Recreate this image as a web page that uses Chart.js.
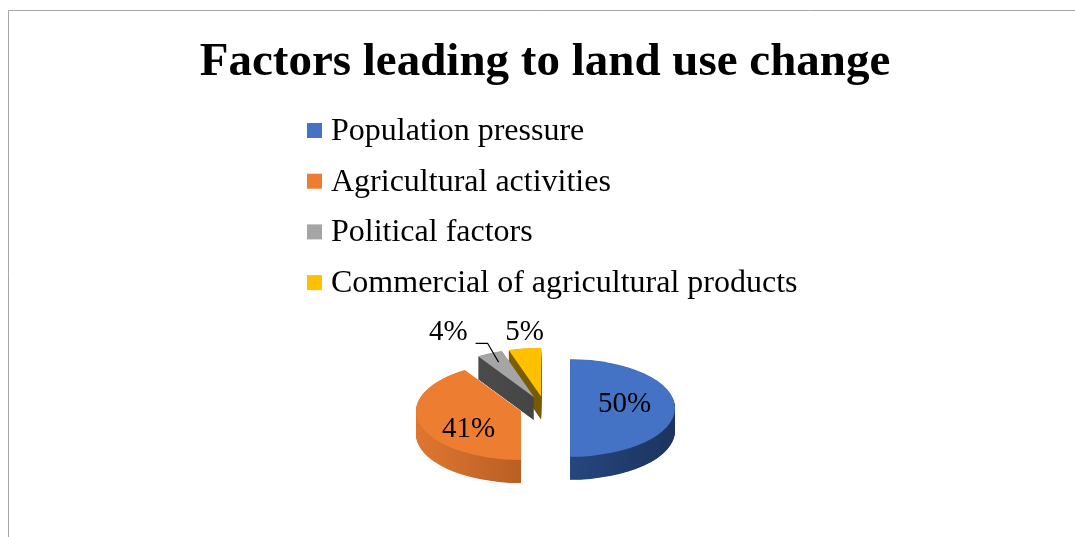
<!DOCTYPE html>
<html>
<head>
<meta charset="utf-8">
<script src="https://cdn.jsdelivr.net/npm/chart.js@4.4.1/dist/chart.umd.min.js"></script>
<style>
  html, body { margin: 0; padding: 0; background: #fff; }
</style>
</head>
<body>
<canvas id="grafico" width="1075" height="537"></canvas>
<script>
// Dados
const categorias = ["Population pressure", "Agricultural activities", "Political factors", "Commercial of agricultural products"];
const valores = [50, 41, 4, 5];
const rotulos = valores.map(v => v + "%");

// Cores (topo e lateral de cada fatia)
const cores = ["#4472c4", "#ed7d31", "#a5a5a5", "#ffc000"];
const coresLado = [["#30589e", "#1c345e"], ["#df7630", "#92481a"], ["#505050", "#3a3a3a"], ["#8f6c00", "#5e4700"]];

const FONTE = '"Liberation Serif", "Times New Roman", serif';
const ACHATAMENTO = 0.465;  // perspectiva vertical
const PROFUNDIDADE = 23;    // espessura em px
const EXPLOSAO = 25;        // afastamento das fatias

function deslocamentos(arcs) {
  return arcs.map(a => {
    const m = (a.startAngle + a.endAngle) / 2;
    return { m, dx: Math.cos(m) * EXPLOSAO, dy: Math.sin(m) * EXPLOSAO };
  });
}

// Pizza "3D": achata, desenha laterais e depois o topo de cada fatia
const pizza3d = {
  id: "pizza3d",
  beforeDraw(chart) {
    const ctx = chart.ctx;
    ctx.save();
    ctx.strokeStyle = "#a6a6a6";
    ctx.lineWidth = 1;
    ctx.beginPath();
    ctx.moveTo(8.5, 537);
    ctx.lineTo(8.5, 10.5);
    ctx.lineTo(1075, 10.5);
    ctx.stroke();
    ctx.restore();
  },
  beforeDatasetsDraw(chart) {
    const ctx = chart.ctx;
    const arcs = chart.getDatasetMeta(0).data;
    const cx = arcs[0].x, cy = arcs[0].y;
    const k = ACHATAMENTO;
    const desloc = deslocamentos(arcs);
    const ordem = arcs.map((a, i) => i).sort((a, b) => desloc[a].dy - desloc[b].dy);

    ctx.save();
    ctx.translate(cx, cy);
    ctx.scale(1, k);
    ctx.translate(-cx, -cy);

    // laterais
    ordem.forEach(i => {
      const a = arcs[i], d = desloc[i];
      const g = ctx.createLinearGradient(a.x + d.dx - a.outerRadius, 0, a.x + d.dx + a.outerRadius, 0);
      g.addColorStop(0, coresLado[i][0]);
      g.addColorStop(1, coresLado[i][1]);
      ctx.fillStyle = g;
      for (let p = PROFUNDIDADE; p > 0; p -= 0.5) {
        const ox = a.x + d.dx, oy = a.y + d.dy + p / k;
        ctx.beginPath();
        ctx.moveTo(ox, oy);
        ctx.arc(ox, oy, a.outerRadius, a.startAngle, a.endAngle);
        ctx.closePath();
        ctx.fill();
      }
    });

    // topos
    ordem.forEach(i => {
      ctx.save();
      ctx.translate(desloc[i].dx, desloc[i].dy);
      arcs[i].draw(ctx);
      ctx.restore();
    });
    ctx.restore();
    return false;
  },
  afterDraw(chart) {
    const ctx = chart.ctx;
    const arcs = chart.getDatasetMeta(0).data;
    const k = ACHATAMENTO;
    const desloc = deslocamentos(arcs);

    // legenda vertical
    ctx.save();
    ctx.font = "32px " + FONTE;
    ctx.textBaseline = "middle";
    ctx.textAlign = "left";
    categorias.forEach((c, i) => {
      const y = 130.5 + i * 50.7;
      ctx.fillStyle = cores[i];
      ctx.fillRect(307, y - 7.5, 15, 15);
      ctx.fillStyle = "#000";
      ctx.fillText(c, 331, y + 1);
    });

    // rótulos de valor
    ctx.font = "29px " + FONTE;
    ctx.textAlign = "center";
    const total = valores.reduce((s, v) => s + v, 0);
    const pontos = arcs.map((a, i) => t => ({
      x: a.x + desloc[i].dx + Math.cos(desloc[i].m) * t,
      y: a.y + (desloc[i].dy + Math.sin(desloc[i].m) * t) * k
    }));
    const pequenas = arcs.map((a, i) => i).filter(i => valores[i] / total < 0.1);
    const linhaY = Math.min(...pequenas.map(i => pontos[i](arcs[i].outerRadius).y)) - 16;
    const ocupados = [];
    for (let i = arcs.length - 1; i >= 0; i--) {
      const a = arcs[i], d = desloc[i], r = a.outerRadius, pt = pontos[i];
      if (!pequenas.includes(i)) {
        const p = pt(r * 0.52);
        ctx.fillText(rotulos[i], p.x, p.y + Math.sin(d.m) * 55 - 4);
        continue;
      }
      const w = ctx.measureText(rotulos[i]).width;
      let x = pt(r).x, y = linhaY;
      const colide = ocupados.some(o => x + w / 2 > o.x0 && x - w / 2 < o.x1);
      if (colide) {
        const ancora = pt(r * 0.8);
        const cotovelo = { x: ancora.x - 11, y: y + 11 };
        const fim = cotovelo.x - 12;
        ctx.strokeStyle = "#000";
        ctx.lineWidth = 1.2;
        ctx.beginPath();
        ctx.moveTo(ancora.x, ancora.y);
        ctx.lineTo(cotovelo.x, cotovelo.y);
        ctx.lineTo(fim, cotovelo.y);
        ctx.stroke();
        x = fim - 8 - w / 2;
      }
      ctx.fillText(rotulos[i], x, y);
      ocupados.push({ x0: x - w / 2, x1: x + w / 2 });
    }
    ctx.restore();
  }
};

const ctx = document.getElementById("grafico").getContext("2d");
new Chart(ctx, {
  type: "pie",
  data: {
    labels: categorias,
    datasets: [{
      data: valores,
      backgroundColor: cores,
      borderWidth: 0,
      hoverOffset: 0,
      offset: 0
    }]
  },
  options: {
    responsive: false,
    animation: false,
    events: [],
    rotation: 0,
    layout: { padding: { left: 15, right: 0, top: 0, bottom: 24 } },
    plugins: {
      legend: { display: false },
      tooltip: { enabled: false },
      title: {
        display: true,
        text: "Factors leading to land use change",
        color: "#000",
        font: { family: FONTE, size: 47, weight: "bold" },
        padding: { top: 35, bottom: 211.6 }
      }
    }
  },
  plugins: [pizza3d]
});
</script>
</body>
</html>
